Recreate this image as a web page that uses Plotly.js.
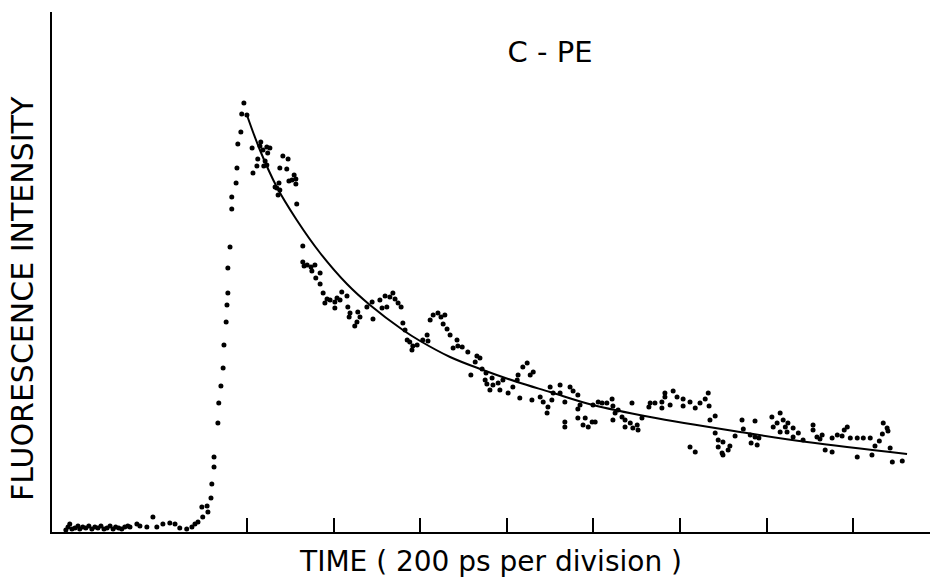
<!DOCTYPE html>
<html>
<head>
<meta charset="utf-8">
<script src="https://cdn.plot.ly/plotly-3.0.1.min.js"></script>
<style>html,body{margin:0;padding:0;background:#fff;}#chart{width:936px;height:580px;}</style>
</head>
<body>
<div id="chart"></div>
<script>
// Time in ps (0 = peak / start of fit), intensity in arbitrary counts
const riseTimePs = [-418,-413,-409,-404,-397,-390,-386,-379,-372,-365,-358,-351,-344,-337,-330,-323,-316,-309,-303,-296,-289,-282,-275,
  -270,-254,-247,-231,-217,-208,-194,-178,-166,-155,-139,-127,-120,-113,-102,-104,-92,-90,-83,-81,-76,-76,-67,-65,-60,
  -55,-53,-48,-46,-44,-44,-39,-35,-35,-25,-23,-21,-14,-12,-7,0];
const riseCounts = [2,5,8,3,4,6,3,5,4,6,3,5,4,6,3,4,6,3,5,4,3,5,6,
  5,8,6,5,15,5,8,9,8,4,3,5,8,10,15,25,26,20,34,48,65,75,109,129,146,
  164,187,210,227,239,264,285,323,335,349,364,388,400,418,429,417];

const peakTimePs = [12,32,30,37,46,53,48,25,23,14,42,39,46,83,95,76,92,74,69,65,76,72,97,104,109,113,113,115,129,129,132,139,148,157,150,159,169,169];
const peakCounts = [384,390,386,382,385,384,379,373,366,359,371,366,367,376,373,364,363,349,344,345,342,337,351,352,357,353,348,328,286,270,266,267,265,267,261,254,259,248];

const midTimePs = [176,185,180,192,203,203,208,215,219,231,233,238,236,256,261,254,249,277,291,289,307,312,323,319,330,337,342,349,356,360,
  365,370,376,383,381,393,406,416,418,423,430,441,448,457,453,462,469,485,487,476,497,510];
const midCounts = [239,233,229,232,230,224,234,232,240,236,225,219,215,220,215,210,206,225,213,230,232,224,225,236,235,239,233,229,225,209,
  202,192,190,186,182,187,192,197,191,212,217,219,215,217,208,203,197,192,186,184,185,180];

const tailTimePs = [531,538,527,517,543,552,550,554,566,568,561,580,584,591,603,614,624,626,637,647,654,661,630,658,677,684,695,693,700,707,
  704,723,723,734,746,753,764,769,764,734,734,764,776,781,788,797,804,799,811,820,831,843,845,850,845,857,866,873,873,885,
  891,901,903,889,912,928];
const tailCounts = [176,174,170,157,163,159,152,148,154,147,142,149,142,152,139,145,152,157,165,169,157,160,134,132,135,130,125,119,145,139,
  132,147,139,130,145,141,137,127,123,110,105,114,107,114,105,110,110,127,130,129,129,133,126,119,112,122,115,112,105,109,
  104,107,102,129,114,125];

const endTimePs = [931,942,958,958,965,965,977,984,993,1007,1007,1023,1035,1046,1058,1065,1067,1069,1081,1023,1035,1081,1088,1088,1097,1099,1099,1111,1115,1127,
  1143,1146,1162,1164,1178,1173,1173,1182,1212,1215,1224,1231,1238,1231,1243,1247,1249,1261,1261,1273,1284,1307,1307,1316,1323,1328,1335,1351,1351,1363,
  1374,1379,1386,1393,1409,1409,1423,1439,1443,1450,1460,1467,1469,1478,1480,1485,1490,1513];
const endCounts = [129,129,130,124,139,135,127,141,135,133,126,130,124,129,133,139,126,112,116,85,80,99,92,85,79,77,90,82,86,96,
  112,103,97,89,87,111,95,94,115,105,109,119,112,100,105,100,109,104,95,99,92,107,102,95,93,97,82,80,94,97,
  96,102,105,94,94,75,94,94,77,86,91,98,109,104,101,84,70,71];

// Fitted decay curve
const fitTimePs = [0,30,69,115,169,231,284,360,400,469,545,624,700,799,931,1139,1293,1524];
const fitCounts = [417,382,345,312,279,248,227,202,191,175,162,150,140,127,115,100,90,78];

const tickTimes = [0,200,400,600,800,1000,1200,1400];
const titleText = 'C - PE';
const xTitleText = 'TIME ( 200 ps per division )';
const yTitleText = 'FLUORESCENCE INTENSITY';

const dotsX = [].concat(riseTimePs, peakTimePs, midTimePs, tailTimePs, endTimePs);
const dotsY = [].concat(riseCounts, peakCounts, midCounts, tailCounts, endCounts);

const FONT = 'DejaVu Sans, Liberation Sans, sans-serif';

const traces = [
  {x: dotsX, y: dotsY, type: 'scatter', mode: 'markers',
   marker: {color: '#000', size: 5}, hoverinfo: 'skip'},
  {x: fitTimePs, y: fitCounts, type: 'scatter', mode: 'lines',
   line: {color: '#000', width: 2, shape: 'spline', smoothing: 1}, hoverinfo: 'skip'}
];

const layout = {
  width: 936, height: 580,
  margin: {l: 52, r: 6, t: 12, b: 48},
  paper_bgcolor: '#fff', plot_bgcolor: '#fff',
  showlegend: false,
  font: {family: FONT, color: '#000'},
  title: {text: titleText, x: 550/936, xanchor: 'center', xref: 'container',
          y: 1 - 52/580, yanchor: 'middle', yref: 'container',
          font: {family: FONT, size: 29, color: '#000'}},
  xaxis: {range: [-450, 1577], showline: true, linecolor: '#000', linewidth: 2,
          ticks: 'inside', ticklen: 14, tickwidth: 2, tickcolor: '#000',
          tickvals: tickTimes, showticklabels: false, showgrid: false, zeroline: false,
          title: {text: xTitleText, standoff: 18, font: {family: FONT, size: 28, color: '#000'}}},
  yaxis: {range: [0, 520], showline: true, linecolor: '#000', linewidth: 2,
          ticks: '', showticklabels: false, showgrid: false, zeroline: false},
  annotations: [
    {text: yTitleText, xref: 'paper', yref: 'paper', x: (22-52)/878, y: (532-299)/520,
     xanchor: 'center', yanchor: 'middle', textangle: -90, showarrow: false,
     font: {family: FONT, size: 30, color: '#000'}}
  ]
};

Plotly.newPlot('chart', traces, layout, {staticPlot: true, displayModeBar: false});
</script>
</body>
</html>
